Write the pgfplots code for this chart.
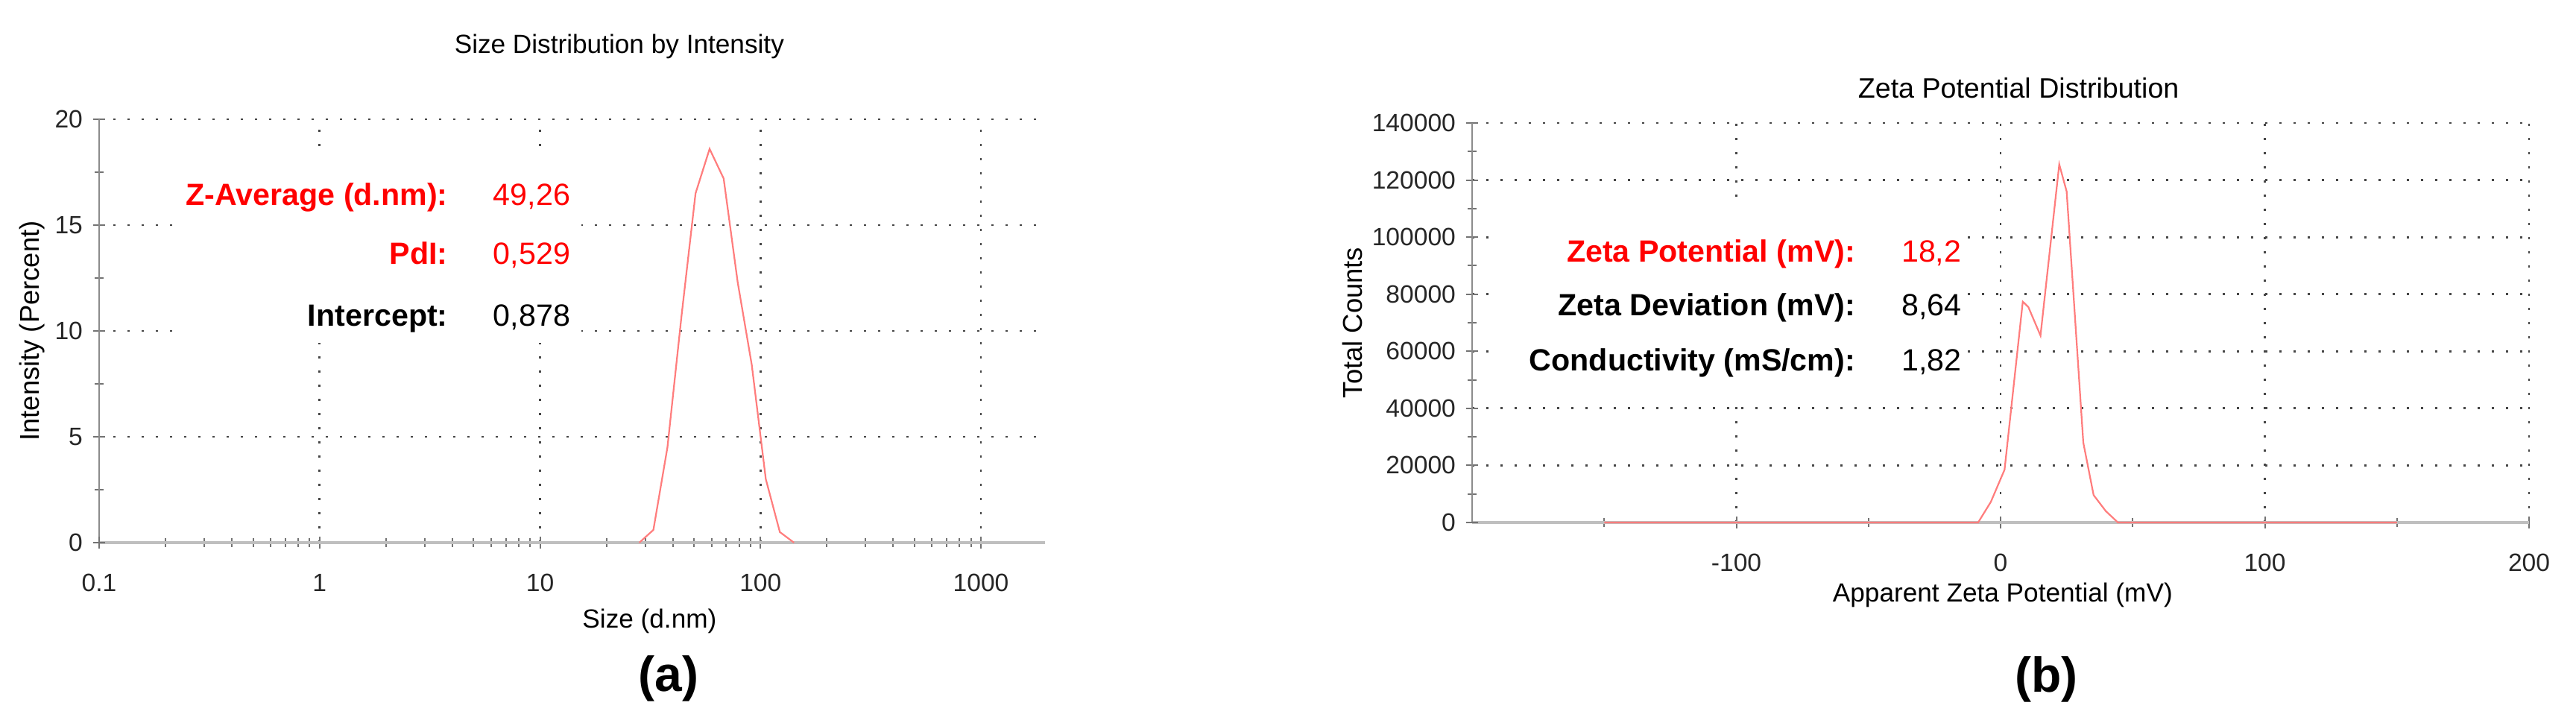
\documentclass[border=0pt]{standalone}
\usepackage{fontspec}
\setmainfont{Liberation Sans}
\usepackage{pgfplots}
\pgfplotsset{compat=1.18}

\definecolor{curve}{RGB}{255,125,125}
\definecolor{zred}{RGB}{255,0,0}
\definecolor{gridc}{RGB}{70,70,70}

% common look of both Malvern panels
\pgfplotsset{
  malvern/.style={
    scale only axis,
    axis lines=left,
    axis line style={-},
    x axis line style={draw=black!25, line width=1.2pt},
    y axis line style={draw=black!45, line width=0.6pt},
    tick align=center,
    major tick length=4pt,
    minor tick length=3pt,
    tick style={black!55, line width=0.5pt},
    grid=major,
    major grid style={gridc, line width=0.7pt, dash pattern=on 0.7pt off 4.05pt},
    tick label style={font=\fontsize{8.4}{10}\selectfont, text=black!85},
    /pgf/number format/assume math mode=true,
    xticklabel style={yshift=-5pt},
    label style={font=\fontsize{8.8}{10}\selectfont},
    every axis title/.style={font=\fontsize{8.8}{10}\selectfont, anchor=center},
    enlargelimits=false,
    clip=false,
  },
}
\tikzset{
  lbl/.style={anchor=east, font=\bfseries\fontsize{#1}{12}\selectfont, text height=1.5ex, text depth=.3ex},
  val/.style={anchor=west, font=\fontsize{#1}{12}\selectfont, text height=1.5ex, text depth=.3ex},
}

\begin{document}
\begin{tikzpicture}
\useasboundingbox (0,0) rectangle (864pt,242.5pt);

% (a) size distribution
\begin{axis}[malvern,
  at={(33.25pt,60.5pt)}, anchor=south west,
  width=317.2pt, height=142pt,
  xmode=log, xmin=0.1, xmax=1950, ymin=0, ymax=20,
  xtick={1,10,100,1000}, xticklabels={1,10,100,1000},
  extra x ticks={0.1}, extra x tick labels={0.1}, extra x tick style={grid=none},
  minor xtick={0.2,0.3,0.4,0.5,0.6,0.7,0.8,0.9,2,3,4,5,6,7,8,9,20,30,40,50,60,70,80,90,200,300,400,500,600,700,800,900},
  ytick={5,10,15,20}, yticklabels={5,10,15,20},
  extra y ticks={0}, extra y tick labels={0}, extra y tick style={grid=none},
  minor ytick={2.5,7.5,12.5,17.5},
  title={Size Distribution by Intensity},
  title style={at={(axis description cs:0.55,1.1725)}},
  xlabel={Size (d.nm)},
  xlabel style={at={(axis description cs:0.582,-0.185)}, anchor=center},
  ylabel={Intensity (Percent)},
  ylabel style={at={(axis description cs:-0.0708,0.5)}, anchor=center, font=\fontsize{9.1}{10}\selectfont},
]
\addplot[curve, line width=0.55pt] coordinates {
  (28.21,0) (32.67,0.6) (37.84,4.5) (43.82,10.7) (50.75,16.5) (58.77,18.6)
  (68.06,17.2) (78.82,12.3) (91.28,8.4) (105.7,3.0) (122.4,0.5) (141.8,0)
};
\fill[white] (axis description cs:0.08,0.472) rectangle (axis description cs:0.51,0.928);
\node[lbl=10.3, text=zred] at (axis description cs:0.3797,0.8187) {Z-Average (d.nm):};
\node[val=10.3, text=zred] at (axis description cs:0.4057,0.8187) {49,26};
\node[lbl=10.3, text=zred] at (axis description cs:0.3797,0.6796) {PdI:};
\node[val=10.3, text=zred] at (axis description cs:0.4057,0.6796) {0,529};
\node[lbl=10.3] at (axis description cs:0.3797,0.5335) {Intercept:};
\node[val=10.3] at (axis description cs:0.4057,0.5335) {0,878};
\node[font=\bfseries\fontsize{16.5}{19}\selectfont] at (axis description cs:0.602,-0.322) {(a)};
\end{axis}

% (b) zeta potential
\begin{axis}[malvern,
  at={(493.75pt,67.25pt)}, anchor=south west,
  width=354.5pt, height=134pt,
  xmin=-200, xmax=200, ymin=0, ymax=140000,
  xtick={-100,0,100,200}, xticklabels={-100,0,100,200},
  minor xtick={-150,-50,50,150},
  ytick={20000,40000,60000,80000,100000,120000,140000},
  yticklabels={20000,40000,60000,80000,100000,120000,140000},
  extra y ticks={0}, extra y tick labels={0}, extra y tick style={grid=none},
  minor ytick={10000,30000,50000,70000,90000,110000,130000},
  scaled y ticks=false,
  title={Zeta Potential Distribution},
  title style={at={(axis description cs:0.517,1.0877)}, font=\fontsize{9.4}{10}\selectfont},
  xlabel={Apparent Zeta Potential (mV)},
  xlabel style={at={(axis description cs:0.502,-0.181)}, anchor=center},
  ylabel={Total Counts},
  ylabel style={at={(axis description cs:-0.113,0.5)}, anchor=center, font=\fontsize{9.1}{10}\selectfont},
]
\addplot[curve, line width=0.55pt] coordinates {
  (-150,0) (-8.5,0) (-3.7,7200) (1.5,18500) (8.4,77400) (10.5,75500)
  (15.1,65500) (22.2,125500) (25.0,116000) (31.3,28000) (35.2,9600)
  (39.8,4000) (44.4,0) (150,0)
};
\fill[white] (axis description cs:0.0268,0.319) rectangle (axis description cs:0.4647,0.7854);
\node[lbl=10.3, text=zred] at (axis description cs:0.3724,0.6754) {Zeta Potential (mV):};
\node[val=10.3, text=zred] at (axis description cs:0.3963,0.6754) {18,2};
\node[lbl=10.3] at (axis description cs:0.3724,0.541) {Zeta Deviation (mV):};
\node[val=10.3] at (axis description cs:0.3963,0.541) {8,64};
\node[lbl=10.3] at (axis description cs:0.3724,0.403) {Conductivity (mS/cm):};
\node[val=10.3] at (axis description cs:0.3963,0.403) {1,82};
\node[font=\bfseries\fontsize{16.5}{19}\selectfont] at (axis description cs:0.5435,-0.392) {(b)};
\end{axis}
\end{tikzpicture}
\end{document}
